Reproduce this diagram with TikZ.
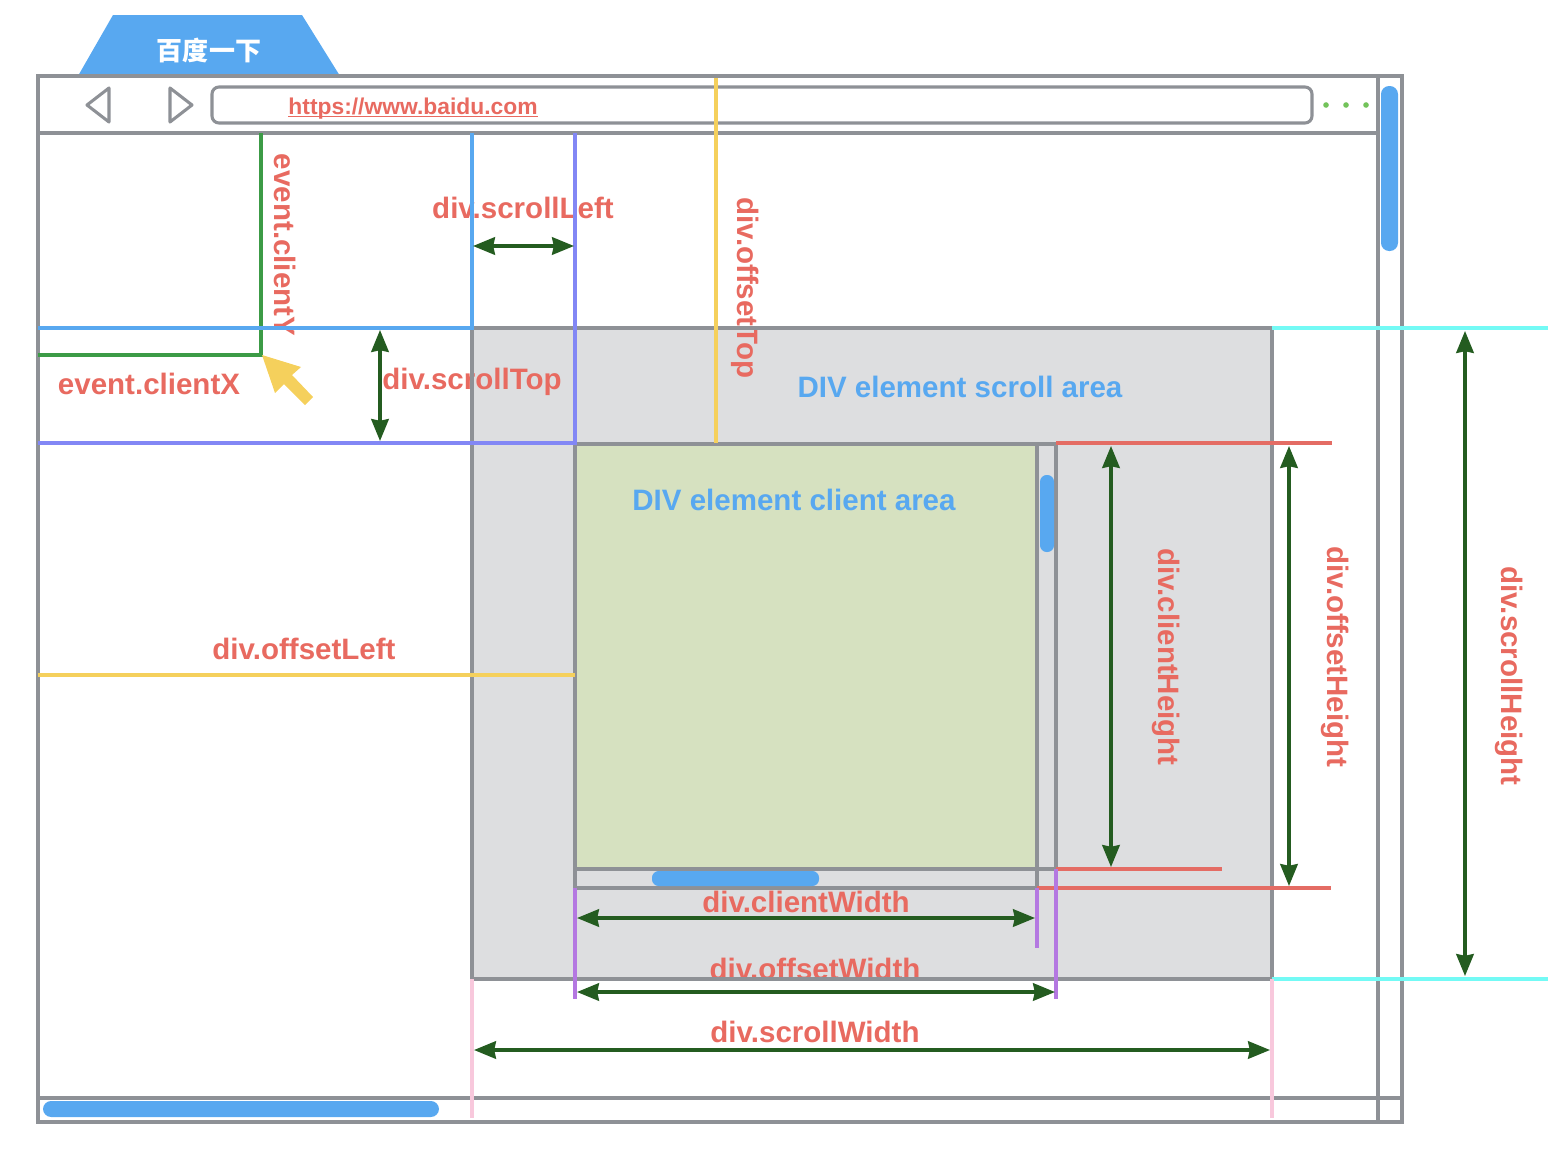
\documentclass[tikz,border=0pt]{standalone}
\usepackage{fontspec}
\setmainfont{Liberation Sans}
\newfontfamily\cjk{Noto Sans CJK SC}
\usetikzlibrary{arrows.meta}
\definecolor{wiregray}{RGB}{142,145,150}
\definecolor{areagray}{RGB}{221,222,224}
\definecolor{clientgreen}{RGB}{214,225,192}
\definecolor{tabblue}{RGB}{88,168,240}
\definecolor{labelred}{RGB}{232,106,96}
\definecolor{dimgreen}{RGB}{36,92,32}
\definecolor{eventgreen}{RGB}{60,155,70}
\definecolor{peri}{RGB}{130,135,245}
\definecolor{offyellow}{RGB}{245,208,92}
\definecolor{edgecyan}{RGB}{115,250,245}
\definecolor{edgered}{RGB}{228,108,100}
\definecolor{edgepurple}{RGB}{180,120,225}
\definecolor{edgepink}{RGB}{248,200,220}
\definecolor{dotgreen}{RGB}{115,195,90}
\tikzset{
  wire/.style={draw=wiregray,line width=1.75pt},
  guide/.style={line width=1.75pt},
  thumb/.style={fill=tabblue,rounded corners=4.6pt},
  dimarr/.style={{Stealth[length=12.5pt,width=10pt,inset=1pt]}-{Stealth[length=12.5pt,width=10pt,inset=1pt]},line width=1.8pt,dimgreen},
  reddim/.style={font=\fontsize{16.8}{18}\selectfont\bfseries,text=labelred,anchor=base,inner sep=0pt},
  bluearea/.style={reddim,text=tabblue},
  sidedim/.style={reddim,rotate=-90}
}

\begin{document}
\begin{tikzpicture}[x=0.02cm,y=-0.02cm]
  \useasboundingbox (0,0) rectangle (1552,1156);
  % browser tab
  \fill[tabblue] (78,76) -- (113,15) -- (302,15) -- (340,76) -- cycle;
  \node[text=white,font=\fontsize{14.8}{16}\selectfont\cjk\bfseries] (tabtext) at (209,50) {百度一下};
  % scroll area and client area
  \fill[areagray] (472,328) rectangle (1272,979);
  \fill[clientgreen] (575,444) rectangle (1037,869);
  \foreach \n/\x/\y in {fr-nw/38/76,fr-ne/1402/76,fr-sw/38/1122,fr-se/1402/1122,
                        bar-n/1378/76,bar-s/1378/1122,top-w/38/133,top-e/1378/133,
                        bot-w/38/1098,bot-e/1402/1098,
                        sa-nw/472/328,sa-ne/1272/328,sa-sw/472/979,sa-se/1272/979,
                        ca-nw/575/444,ca-sw/575/888,cb-n/1037/444,cb-s/1037/888,
                        cc-n/1056/444,cc-s/1056/888,cd-w/575/869,cd-e/1056/869}
    \coordinate (\n) at (\x,\y);
  % labels under the guide lines
  \node[sidedim] (clienty) at (274,245) {event.clientY};
  \node[sidedim] (offtop) at (737,288) {div.offsetTop};
  \node[reddim] (scrollleft) at (523,218) {div.scrollLeft};
  \node[reddim] (scrolltop) at (472,389) {div.scrollTop};
  \node[reddim] (clientx) at (149,394) {event.clientX};
  \node[reddim] (offleft) at (304,659) {div.offsetLeft};
  \node[reddim] (clientw) at (806,912) {div.clientWidth};
  \node[reddim] (offw) at (815,979) {div.offsetWidth};
  \node[reddim] (scrollw) at (815,1042) {div.scrollWidth};
  \node[sidedim] (clienth) at (1158,657) {div.clientHeight};
  \node[sidedim] (offh) at (1327,657) {div.offsetHeight};
  \node[sidedim] (scrollh) at (1501,676) {div.scrollHeight};
  \node[bluearea] (scrollarea) at (960,397) {DIV element scroll area};
  \node[bluearea] (clientarea) at (794,510) {DIV element client area};
  % frame
  \draw[wire] (fr-nw) rectangle (fr-se);
  \draw[wire] (bar-n) -- (bar-s);
  \draw[wire] (top-w) -- (top-e);
  \draw[wire] (bot-w) -- (bot-e);
  \draw[wire] (sa-nw) rectangle (sa-se);
  \draw[wire] (ca-nw) -- (cc-n) -- (cc-s) -- (ca-sw) -- cycle;
  \draw[wire] (cb-n) -- (cb-s);
  \draw[wire] (cd-w) -- (cd-e);
  % toolbar
  \draw[wire,line join=round] (87,105) -- (109,88) -- (109,122) -- cycle;
  \draw[wire,line join=round] (192,105) -- (170,88) -- (170,122) -- cycle;
  \draw[wire,rounded corners=4pt] (212,87) rectangle (1312,123);
  \node[anchor=base,inner sep=0pt,text=labelred,font=\fontsize{13}{15}\selectfont\bfseries] (url) at (413,114) {https://www.baidu.com};
  \draw[labelred,line width=.8pt] ([yshift=-1.3pt]url.base west) -- ([yshift=-1.3pt]url.base east);
  \foreach \x in {1326,1346,1366}
    \fill[dotgreen] (\x,105) circle (1.6pt);
  % scrollbars
  \fill[thumb] (1381,86) rectangle (1398,251);
  \fill[thumb] (43,1101) rectangle (439,1117);
  \fill[thumb,rounded corners=3.8pt] (1040,475) rectangle (1054,552);
  \fill[thumb,rounded corners=3.8pt] (652,871) rectangle (819,886);
  % guide lines
  \foreach \n/\x/\y in {cy-a/261/133,cy-b/261/355,cy-c/38/355,
                        st-a/472/133,st-b/472/328,st-c/38/328,
                        sl-a/575/133,sl-b/575/443,sl-c/38/443,
                        ot-a/716/78,ot-b/716/443,ol-a/38/675,ol-b/575/675,
                        sh-a/1272/328,sh-b/1548/328,sh-c/1272/979,sh-d/1548/979,
                        oh-a/1056/443,oh-b/1332/443,ch-a/1056/869,ch-b/1222/869,
                        oh-c/1037/888,oh-d/1331/888,
                        pu-a/575/888,pu-b/575/999,pu-c/1037/888,pu-d/1037/948,
                        pu-e/1056/869,pu-f/1056/999,
                        pk-a/472/979,pk-b/472/1118,pk-c/1272/979,pk-d/1272/1118}
    \coordinate (\n) at (\x,\y);
  \draw[guide,eventgreen] (cy-a) -- (cy-b) -- (cy-c);
  \draw[guide,tabblue] (st-a) -- (st-b) -- (st-c);
  \draw[guide,peri] (sl-a) -- (sl-b) -- (sl-c);
  \draw[guide,offyellow] (ot-a) -- (ot-b);
  \draw[guide,offyellow] (ol-a) -- (ol-b);
  \draw[guide,edgecyan] (sh-a) -- (sh-b);
  \draw[guide,edgecyan] (sh-c) -- (sh-d);
  \draw[guide,edgered] (oh-a) -- (oh-b);
  \draw[guide,edgered] (ch-a) -- (ch-b);
  \draw[guide,edgered] (oh-c) -- (oh-d);
  \draw[guide,edgepurple] (pu-a) -- (pu-b);
  \draw[guide,edgepurple] (pu-c) -- (pu-d);
  \draw[guide,edgepurple] (pu-e) -- (pu-f);
  \draw[guide,edgepink] (pk-a) -- (pk-b);
  \draw[guide,edgepink] (pk-c) -- (pk-d);
  % mouse pointer
  \fill[offyellow] (262,355) -- (301,367) -- (292,375) -- (313,397) -- (305,405) -- (284,384) -- (275,393) -- cycle;
  % dimension arrows
  \foreach \n/\ax/\ay/\bx/\by in {slw/473/246/574/246,sth/380/330/380/441,cw/577/918/1035/918,
                                  ow/577/992/1055/992,sw/474/1050/1270/1050,
                                  chh/1111/446/1111/867,ohh/1289/446/1289/886,shh/1465/331/1465/976}{
    \coordinate (\n-a) at (\ax,\ay);
    \coordinate (\n-b) at (\bx,\by);
    \draw[dimarr] (\n-a) -- (\n-b);
  }
\end{tikzpicture}
\end{document}
